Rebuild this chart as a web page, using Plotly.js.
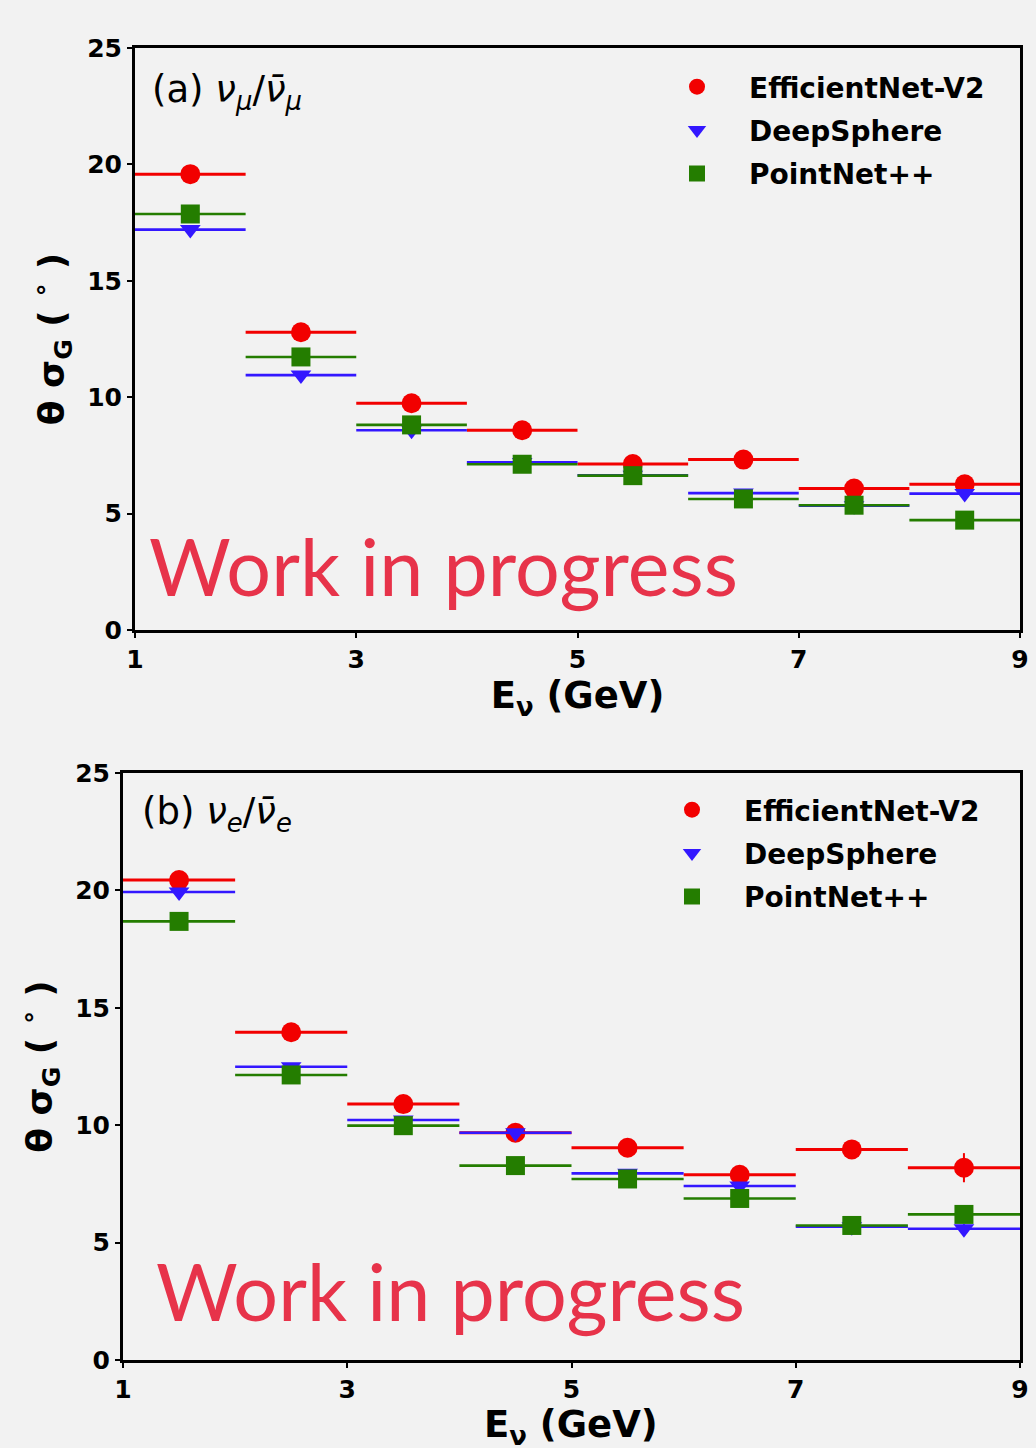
<!DOCTYPE html>
<html>
<head>
<meta charset="utf-8">
<script src="https://cdn.plot.ly/plotly-3.0.1.min.js"></script>
<style>html,body{margin:0;padding:0;background:#f2f2f2;}</style>
</head>
<body>
<div id="chart" style="width:1036px;height:1448px;"></div>
<script>
// ---- data ----
const energyCenters = [1.5, 2.5, 3.5, 4.5, 5.5, 6.5, 7.5, 8.5];
const energyHalfWidth = [0.5, 0.5, 0.5, 0.5, 0.5, 0.5, 0.5, 0.5];
const seriesNames = ["EfficientNet-V2", "DeepSphere", "PointNet++"];
const xTitleText = "E<sub>ν</sub> (GeV)";
const yTitleText = "θ σ<sub>G</sub> ( <sup>∘</sup> )";

// (a) nu_mu / anti-nu_mu
const numuEfficientNet = [19.58, 12.79, 9.74, 8.58, 7.13, 7.32, 6.08, 6.26];
const numuDeepSphere   = [17.20, 10.95, 8.58, 7.20, 6.65, 5.88, 5.34, 5.86];
const numuPointNet     = [17.87, 11.73, 8.81, 7.12, 6.63, 5.63, 5.36, 4.72];
const numuEfficientNetErr = [0.15, 0.15, 0.15, 0.15, 0.15, 0.15, 0.15, 0.2];
const numuDeepSphereErr   = [0.15, 0.15, 0.15, 0.15, 0.15, 0.15, 0.15, 0.2];
const numuPointNetErr     = [0.15, 0.15, 0.15, 0.15, 0.15, 0.15, 0.15, 0.2];

// (b) nu_e / anti-nu_e
const nueEfficientNet = [20.44, 13.96, 10.90, 9.68, 9.04, 7.89, 8.97, 8.19];
const nueDeepSphere   = [19.93, 12.49, 10.22, 9.68, 7.95, 7.41, 5.68, 5.59];
const nuePointNet     = [18.68, 12.14, 9.98, 8.28, 7.71, 6.88, 5.73, 6.20];
const nueEfficientNetErr = [0.15, 0.15, 0.15, 0.15, 0.15, 0.15, 0.2, 0.62];
const nueDeepSphereErr   = [0.15, 0.15, 0.15, 0.15, 0.15, 0.15, 0.15, 0.2];
const nuePointNetErr     = [0.15, 0.15, 0.15, 0.15, 0.15, 0.15, 0.15, 0.2];

const xTickVals = [1, 3, 5, 7, 9];
const yTickVals = [0, 5, 10, 15, 20, 25];

// ---- styles ----
const colors = ["#f20000", "#3317ff", "#247d00"];
const symbols = ["circle", "triangle-down", "square"];
const msizes = [20, 18, 19];
const thick = [3, 2.6, 2.6];

function mk(name, i, y, yerr, xa, ya, leg, show) {
  return {
    type: "scatter", mode: "markers", name: name,
    x: energyCenters, y: y,
    xaxis: xa, yaxis: ya, legend: leg, showlegend: show,
    legendgroup: leg + i,
    marker: {symbol: symbols[i], size: msizes[i], color: colors[i], line: {width: 0}},
    error_x: {type: "data", array: energyHalfWidth, visible: true, color: colors[i], thickness: thick[i], width: 0},
    error_y: {type: "data", array: yerr, visible: true, color: colors[i], thickness: 2, width: 0},
    hoverinfo: "skip"
  };
}

const traces = [
  mk(seriesNames[0], 0, numuEfficientNet, numuEfficientNetErr, "x", "y", "legend", true),
  mk(seriesNames[1], 1, numuDeepSphere, numuDeepSphereErr, "x", "y", "legend", true),
  mk(seriesNames[2], 2, numuPointNet, numuPointNetErr, "x", "y", "legend", true),
  mk(seriesNames[0], 0, nueEfficientNet, nueEfficientNetErr, "x2", "y2", "legend2", true),
  mk(seriesNames[1], 1, nueDeepSphere, nueDeepSphereErr, "x2", "y2", "legend2", true),
  mk(seriesNames[2], 2, nuePointNet, nuePointNetErr, "x2", "y2", "legend2", true)
];

const W = 1036, H = 1448;
const px = v => v / W;
const py = v => (H - v) / H;

const tickFont = {family: "DejaVu Sans", size: 25, color: "#000", weight: "bold"};
const xTitleFont = {family: "DejaVu Sans", size: 37, color: "#000", weight: "bold"};

function xax(dom, anchor, titleText) {
  return {
    domain: dom, anchor: anchor, range: [1, 9], tickvals: xTickVals,
    showgrid: false, zeroline: false, showline: true, mirror: true,
    linecolor: "#000", linewidth: 3, ticks: "outside", ticklen: 5, tickwidth: 2, tickcolor: "#000",
    tickfont: tickFont,
    title: {text: titleText, font: xTitleFont, standoff: 5}
  };
}
function yax(dom, anchor) {
  return {
    domain: dom, anchor: anchor, range: [0, 25], tickvals: yTickVals,
    showgrid: false, zeroline: false, showline: true, mirror: true,
    linecolor: "#000", linewidth: 3, ticks: "outside", ticklen: 5, tickwidth: 2, tickcolor: "#000",
    tickfont: tickFont,
    title: {text: yTitleText, font: {family: "DejaVu Sans", size: 36, color: "#000", weight: "bold"}, standoff: 12}
  };
}

const legFont = {family: "DejaVu Sans", size: 28, color: "#000", weight: "bold"};

const layout = {
  width: W, height: H,
  margin: {l: 0, r: 0, t: 0, b: 0},
  paper_bgcolor: "#f2f2f2", plot_bgcolor: "#f2f2f2",
  showlegend: true,
  xaxis: xax([px(135), px(1020)], "y", xTitleText),
  yaxis: yax([py(630), py(48)], "x"),
  xaxis2: xax([px(123), px(1020)], "y2", ""),
  yaxis2: yax([py(1360), py(773)], "x2"),
  legend: {x: px(645), y: py(62), xanchor: "left", yanchor: "top", bgcolor: "rgba(0,0,0,0)",
           font: legFont, itemwidth: 94, tracegroupgap: 4},
  legend2: {x: px(640), y: py(785), xanchor: "left", yanchor: "top", bgcolor: "rgba(0,0,0,0)",
           font: legFont, itemwidth: 94, tracegroupgap: 4},
  annotations: [
    {text: xTitleText, xref: "paper", yref: "paper",
     x: px(571), y: py(1427), xanchor: "center", yanchor: "middle", showarrow: false,
     font: xTitleFont},
    {text: "(a) <i>ν</i><sub><i>μ</i></sub>/<i>ν̄</i><sub><i>μ</i></sub>", xref: "paper", yref: "paper",
     x: px(150), y: py(92), xanchor: "left", yanchor: "middle", showarrow: false,
     font: {family: "DejaVu Sans", size: 37, color: "#000"}},
    {text: "(b) <i>ν</i><sub><i>e</i></sub>/<i>ν̄</i><sub><i>e</i></sub>", xref: "paper", yref: "paper",
     x: px(140), y: py(814), xanchor: "left", yanchor: "middle", showarrow: false,
     font: {family: "DejaVu Sans", size: 37, color: "#000"}},
    {text: "Work in progress", xref: "paper", yref: "paper",
     x: px(147), y: py(565), xanchor: "left", yanchor: "middle", showarrow: false,
     font: {family: "Lato", size: 79, color: "#e7334a"}},
    {text: "Work in progress", xref: "paper", yref: "paper",
     x: px(154), y: py(1290), xanchor: "left", yanchor: "middle", showarrow: false,
     font: {family: "Lato", size: 79, color: "#e7334a"}}
  ]
};

Plotly.newPlot("chart", traces, layout, {displayModeBar: false, staticPlot: true});
</script>
</body>
</html>
